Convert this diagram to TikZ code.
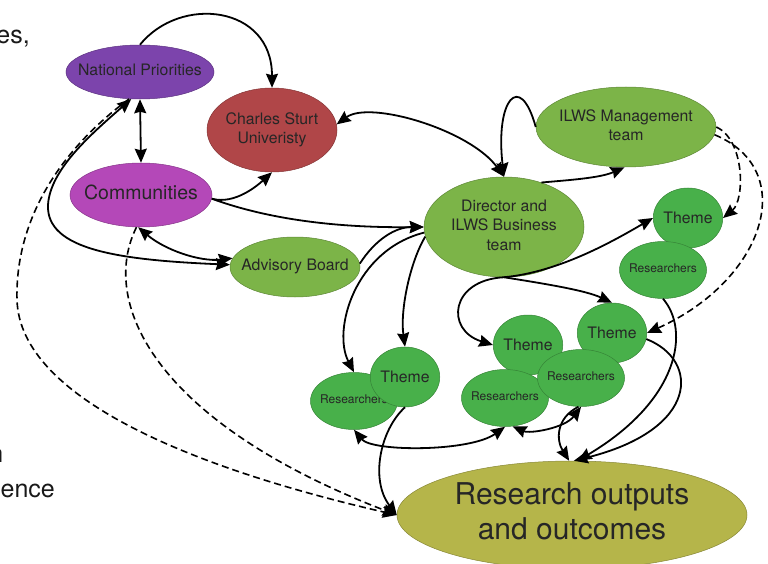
\documentclass[tikz,border=0pt]{standalone}
\usepackage{fontspec}
\setmainfont{TeX Gyre Heros}
\usetikzlibrary{arrows.meta, shapes.geometric}

\definecolor{npcol}{RGB}{124,68,172}
\definecolor{csucol}{RGB}{176,70,72}
\definecolor{comcol}{RGB}{180,72,184}
\definecolor{leaf}{RGB}{124,180,72}
\definecolor{grass}{RGB}{72,176,74}
\definecolor{olive}{RGB}{181,181,74}

% text of a blob, kept out of the ellipse size
\newcommand{\blobtext}[1]{\makebox[0pt]{\begin{tabular}{@{}c@{}}#1\end{tabular}}}

\begin{document}
\begin{tikzpicture} [
						x=1pt, y=-1pt,
						>={Stealth[length=14pt,width=12pt,inset=1.5pt]},
						link/.style={line width=1.8pt},
						hint/.style={line width=1.6pt, dash pattern=on 7pt off 4pt},
						blob/.style={ellipse, draw=#1!75!black, fill=#1, line width=0.5pt, inner sep=0pt, text=black!85},
						small/.style={font=\fontsize{15.8}{19.5}\selectfont},
						tiny/.style={font=\fontsize{12}{14}\selectfont},
						big/.style={font=\fontsize{30}{35}\selectfont},
						slide/.style={font=\fontsize{25}{35}\selectfont, inner sep=0pt, text=black!90},
						theme/.style={blob=grass, small, minimum width=66, minimum height=60},
						people/.style={blob=grass, tiny, minimum width=87, minimum height=57}
					]

\useasboundingbox (0,0) rectangle (768,564);

% cut slide text at the left edge
\node (frag1) [slide, anchor=base east] at (30,44) {es,};
\node (frag2) [slide, anchor=base east] at (3.5,462) {n};
\node (frag3) [slide, anchor=base east] at (55,497) {ence};

\node (np) [blob=npcol, small, minimum width=148, minimum height=54] at (140,72) {\blobtext{National Priorities}};
\node (csu) [blob=csucol, small, minimum width=130, minimum height=84] at (272,130) {\blobtext{Charles Sturt\\Univeristy}};
\node (com) [blob=comcol, font=\fontsize{19.5}{23}\selectfont, minimum width=142, minimum height=64] at (141,195) {\blobtext{Communities}};
\node (ab) [blob=leaf, small, minimum width=130, minimum height=60] at (295,267) {\blobtext{Advisory Board}};
\node (dir) [blob=leaf, small, minimum width=160, minimum height=100] at (504,227) {\blobtext{Director and\\ILWS Business\\team}};
\node (mgt) [blob=leaf, small, minimum width=180, minimum height=80] at (626,127) {\blobtext{ILWS Management\\team}};

\node (t1) [theme] at (688,218) {Theme};
\node (r1) [people] at (663,270) {\blobtext{Researchers}};
\node (r2) [people] at (354,401) {\blobtext{Researchers}};
\node (t2) [theme] at (405,377) {Theme};
\node (t3) [theme] at (528,345) {Theme};
\node (t4) [theme] at (612,333) {Theme};
\node (r3) [people] at (505,398) {\blobtext{Researchers}};
\node (r4) [people] at (581,378) {\blobtext{Researchers}};

\node (roo) [blob=olive, big, minimum width=350, minimum height=108] at (572,515) {\blobtext{Research outputs\\and outcomes}};

% top left
\draw[link,->] (np.north) .. controls (180,-5) and (272,5) .. (csu.north);
\draw[link,<->] (np.south) -- (com.north);
\draw[link,->] (com.357) .. controls (235,205) and (258,185) .. (csu.south);
\draw[link,->] (com.357) .. controls (270,220) and (340,228) .. (dir.west);
\draw[link,<->] (com.265) .. controls (165,250) and (200,262) .. (ab.172);
\draw[link,<->] (np.252) .. controls (90,135) and (50,170) .. (48,205)
	.. controls (46,250) and (120,260) .. (ab.178);
\draw[link,->] (ab.3) .. controls (375,240) and (395,227) .. (dir.west);

% director and management
\draw[link,<->] (csu.5) .. controls (370,100) and (470,130) .. (dir.north);
\draw[link,->] (mgt.west) .. controls (520,70) and (495,100) .. (dir.north);
\draw[link,->] (dir.50) .. controls (570,180) and (600,178) .. (mgt.268);
\draw[link,->] (dir.184) .. controls (355,250) and (332,330) .. (r2.north);
\draw[link,->] (dir.187) .. controls (410,262) and (400,310) .. (t2.north);
\draw[link,->] (dir.south) .. controls (560,272) and (615,240) .. (t1.west);
\draw[link,->] (dir.south) .. controls (450,280) and (445,330) .. (t3.west);
\draw[link,->] (dir.south) .. controls (540,283) and (585,290) .. (t4.north);
\draw[hint,->] (mgt.east) .. controls (745,140) and (745,200) .. (t1.east);
\draw[hint,->] (mgt.355) .. controls (800,170) and (765,280) .. (t4.east);

% groups and outputs
\draw[link,<->] (r2.south) .. controls (372,452) and (470,452) .. (r3.south);
\draw[link,<->] (r3.285) .. controls (530,434) and (565,428) .. (r4.south);
\draw[link,->] (r4.265) .. controls (556,418) and (556,440) .. (roo.93);
\draw[link,->] (t4.350) .. controls (700,360) and (700,430) .. (roo.88);
\draw[link,->] (r1.south) .. controls (690,330) and (680,400) .. (roo.84);
\draw[link,->] (t2.south) .. controls (380,430) and (370,480) .. (roo.west);
\draw[hint,->] (np.248) .. controls (60,150) and (15,220) .. (17,300)
	.. controls (20,400) and (200,470) .. (roo.west);
\draw[hint,->] (com.262) .. controls (100,300) and (150,420) .. (roo.west);

\end{tikzpicture}
\end{document}
